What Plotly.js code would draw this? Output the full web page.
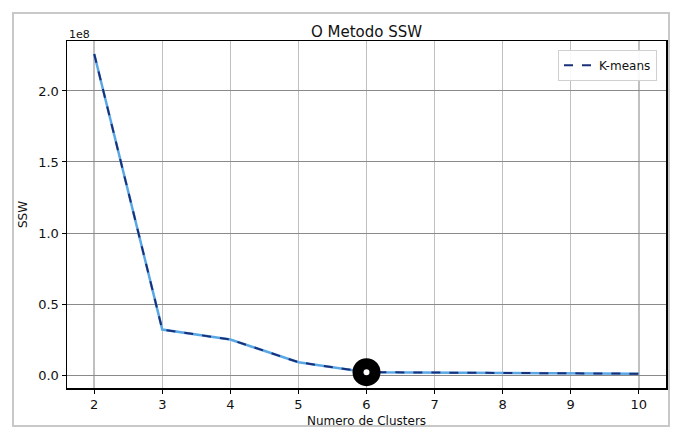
<!DOCTYPE html>
<html>
<head>
<meta charset="utf-8">
<script src="https://cdn.plot.ly/plotly-3.0.1.min.js"></script>
<style>
  html, body { margin:0; padding:0; background:#fff; }
  #frame { position:absolute; left:12px; top:12px; width:654px; height:411px; border:2px solid #c8c8c8; }
  #chart { position:absolute; left:0; top:0; width:676px; height:439px; }
</style>
</head>
<body>
<div id="frame"></div>
<div id="chart"></div>
<script>
const clusters = [2, 3, 4, 5, 6, 7, 8, 9, 10];
const ssw = [2.26e8, 0.32e8, 0.25e8, 0.09e8, 0.02e8, 0.016e8, 0.013e8, 0.011e8, 0.009e8];
const elbowK = [6];
const elbowSSW = [0.02e8];
const yTickVals = [0, 0.5e8, 1.0e8, 1.5e8, 2.0e8];
const yTickText = ['0.0', '0.5', '1.0', '1.5', '2.0'];
const xTickVals = [2, 3, 4, 5, 6, 7, 8, 9, 10];

const font = 'DejaVu Sans, sans-serif';

const traces = [
  { x: clusters, y: ssw, type: 'scatter', mode: 'lines', showlegend: false,
    line: { color: '#5aa7e6', width: 2.5 }, hoverinfo: 'skip' },
  { x: clusters, y: ssw, type: 'scatter', mode: 'lines', name: 'K-means',
    line: { color: '#1a2f7a', width: 2, dash: 'dash' } },
  { x: elbowK, y: elbowSSW, type: 'scatter', mode: 'markers', showlegend: false,
    marker: { size: 17, color: '#ffffff', line: { color: '#000000', width: 11 } } }
];

const layout = {
  width: 676, height: 439,
  margin: { l: 67, r: 10, t: 41, b: 51 },
  paper_bgcolor: 'rgba(0,0,0,0)',
  plot_bgcolor: '#ffffff',
  font: { family: font, color: '#111', size: 12 },
  title: { text: 'O Metodo SSW', x: 0.5, xref: 'paper', y: 1, yref: 'paper', yanchor: 'bottom',
           pad: { b: 4 }, font: { family: font, size: 15, color: '#111' } },
  xaxis: {
    range: [1.6, 10.4], tickvals: xTickVals, ticks: 'outside', ticklen: 4, tickcolor: '#000',
    showgrid: true, gridcolor: '#c0c0c0', gridwidth: 1.5, zeroline: false,
    showline: true, linecolor: '#000', linewidth: 1.5, mirror: true,
    tickfont: { size: 13, color: '#111' },
    title: { text: 'Numero de Clusters', standoff: 5, font: { size: 12, color: '#111' } }
  },
  yaxis: {
    range: [-0.0915e8, 2.352e8], tickvals: yTickVals, ticktext: yTickText,
    ticks: 'outside', ticklen: 4, tickcolor: '#000',
    showgrid: true, gridcolor: '#8a8a8a', gridwidth: 1, zeroline: false,
    showline: true, linecolor: '#000', linewidth: 1.5, mirror: true,
    tickfont: { size: 13, color: '#111' },
    title: { text: 'SSW', standoff: 8, font: { size: 12, color: '#111' } }
  },
  legend: {
    x: 0.985, y: 0.975, xanchor: 'right', yanchor: 'top',
    bgcolor: 'rgba(255,255,255,0.9)', bordercolor: '#d0d0d0', borderwidth: 1,
    font: { size: 12, color: '#111' }
  },
  annotations: [
    { text: '1e8', xref: 'paper', yref: 'paper', x: 0, y: 1, xanchor: 'left', yanchor: 'bottom',
      showarrow: false, font: { size: 11, color: '#111' }, yshift: -2 }
  ]
};

Plotly.newPlot('chart', traces, layout, { displayModeBar: false, staticPlot: true });
</script>
</body>
</html>
